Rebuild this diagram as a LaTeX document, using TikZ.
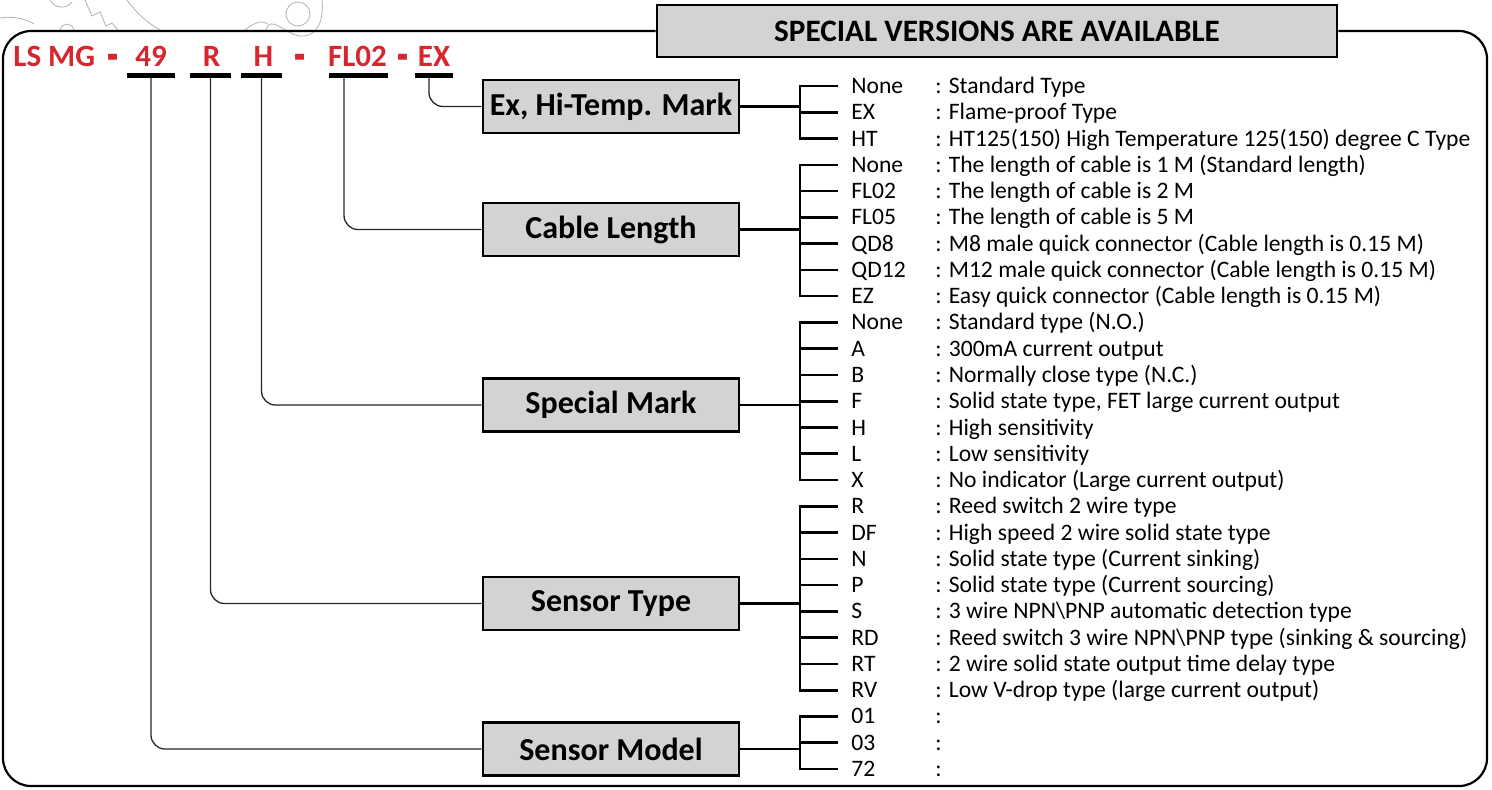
\documentclass[tikz,border=0pt]{standalone}
\usepackage{fontspec}
\setmainfont{Carlito}
\usetikzlibrary{calc}
\definecolor{codered}{RGB}{214,39,46}
\definecolor{boxgray}{RGB}{211,211,213}
\tikzset{
  labelbox/.style={draw=black, line width=1.3pt, fill=boxgray, minimum width=128pt,
    minimum height=26.5pt, inner sep=0pt, font=\bfseries\fontsize{16}{18}\selectfont},
  titlebox/.style={draw=black, line width=1.3pt, fill=boxgray, minimum width=340pt,
    minimum height=26pt, inner sep=0pt, font=\bfseries\fontsize{15.6}{18}\selectfont},
  conn/.style={line width=0.65pt, draw=black!85, rounded corners=7pt},
  brk/.style={line width=1.3pt},
  codebar/.style={fill=black, minimum height=2.5pt, inner sep=0pt},
  codetxt/.style={text=codered, font=\bfseries\fontsize{15.5}{18}\selectfont, anchor=base, inner sep=0pt},
  dashtxt/.style={codetxt, font=\bfseries\fontsize{15}{18}\selectfont},
  opt/.style={anchor=base west, inner sep=0pt, font=\fontsize{11.8}{14}\selectfont},
  outline/.style={line width=1.1pt, rounded corners=14pt},
  wmark/.style={draw=black!30, line width=0.4pt},
}
% one option line: name, row index, code, description
\newcommand\optrow[4]{%
  \node[opt] (#1c) at (851,{86+26.27*#2+7.5}) {#3};
  \node[opt] (#1d) at (935,{86+26.27*#2+7.5}) {: #4};
  \coordinate (#1t) at (838,{86+26.27*#2});
  \coordinate (#1j) at (800,{86+26.27*#2});
}
\newcommand\bigdash{\scalebox{1.2}[1.9]{-}}
\begin{document}
\begin{tikzpicture}[x=0.5pt,y=-0.5pt]
\useasboundingbox (0,0) rectangle (1492,789);

% faint gear outline in the upper corner
\draw[wmark] (298,14) circle (12);
\draw[wmark] (266,30) .. controls (270,14) and (285,34) .. (300,36) .. controls (318,37) and (324,20) .. (322,0);
\draw[wmark] (127,0) .. controls (136,12) and (146,22) .. (160,30);
\draw[wmark] (85,0) -- (92,16) -- (100,12) -- (106,26) -- (112,23) -- (118,30);
\draw[wmark] (50,0) .. controls (54,8) and (66,10) .. (72,2);
\draw[wmark] (0,18) .. controls (12,16) and (24,18) .. (34,24);
\draw[wmark] (60,30) .. controls (62,22) and (72,22) .. (74,30);
\draw[wmark] (245,30) .. controls (255,22) and (262,20) .. (268,24);

% title and outer frame
\node[titlebox] (title) at (997,31) {SPECIAL VERSIONS ARE AVAILABLE};
\draw[outline] (title.west) -- (3,31) -- (3,786) -- (1487,786) -- (1487,31) -- (title.east);

% ordering code
\node[codetxt, anchor=base west] (cLS) at (13,66) {LS MG};
\node[dashtxt] (cD1) at (113,73) {\bigdash};
\node[codetxt] (c49) at (151,66) {49};
\node[codetxt] (cR)  at (211.5,66) {R};
\node[codetxt] (cH)  at (263.5,66) {H};
\node[dashtxt] (cD2) at (300,73) {\bigdash};
\node[codetxt] (cFL) at (357.5,66) {FL02};
\node[dashtxt] (cD3) at (403,73) {\bigdash};
\node[codetxt] (cEX) at (434,66) {EX};

\node[codebar, minimum width=24pt]   (b49) at (151,75) {};
\node[codebar, minimum width=20.5pt] (bR)  at (210.5,75) {};
\node[codebar, minimum width=20.5pt] (bH)  at (261.5,75) {};
\node[codebar, minimum width=29.5pt] (bFL) at (358.5,75) {};
\node[codebar, minimum width=19pt]   (bEX) at (434,75) {};

% category boxes
\node[labelbox] (exbox)    at (611,106.5) {Ex, Hi-Temp. Mark};
\node[labelbox] (cablebox) at (611,229.5) {Cable Length};
\node[labelbox] (markbox)  at (611,405)   {Special Mark};
\node[labelbox] (typebox)  at (611,603.5) {Sensor Type};
\node[labelbox] (modelbox) at (611,749)   {Sensor Model};

% links from code to categories
\draw[conn] ([xshift=-2.5pt]bEX.south) |- (exbox.west);
\draw[conn] ([xshift=-7.25pt]bFL.south) |- (cablebox.west);
\draw[conn] (bH.south) |- (markbox.west);
\draw[conn] (bR.south) |- (typebox.west);
\draw[conn] (b49.south) |- (modelbox.west);

% option lines
\optrow{e0}{0}{None}{Standard Type}
\optrow{e1}{1}{EX}{Flame-proof Type}
\optrow{e2}{2}{HT}{HT125(150) High Temperature 125(150) degree C Type}
\optrow{l0}{3}{None}{The length of cable is 1 M (Standard length)}
\optrow{l1}{4}{FL02}{The length of cable is 2 M}
\optrow{l2}{5}{FL05}{The length of cable is 5 M}
\optrow{l3}{6}{QD8}{M8 male quick connector (Cable length is 0.15 M)}
\optrow{l4}{7}{QD12}{M12 male quick connector (Cable length is 0.15 M)}
\optrow{l5}{8}{EZ}{Easy quick connector (Cable length is 0.15 M)}
\optrow{m0}{9}{None}{Standard type (N.O.)}
\optrow{m1}{10}{A}{300mA current output}
\optrow{m2}{11}{B}{Normally close type (N.C.)}
\optrow{m3}{12}{F}{Solid state type, FET large current output}
\optrow{m4}{13}{H}{High sensitivity}
\optrow{m5}{14}{L}{Low sensitivity}
\optrow{m6}{15}{X}{No indicator (Large current output)}
\optrow{t0}{16}{R}{Reed switch 2 wire type}
\optrow{t1}{17}{DF}{High speed 2 wire solid state type}
\optrow{t2}{18}{N}{Solid state type (Current sinking)}
\optrow{t3}{19}{P}{Solid state type (Current sourcing)}
\optrow{t4}{20}{S}{3 wire NPN\textbackslash PNP automatic detection type}
\optrow{t5}{21}{RD}{Reed switch 3 wire NPN\textbackslash PNP type (sinking \& sourcing)}
\optrow{t6}{22}{RT}{2 wire solid state output time delay type}
\optrow{t7}{23}{RV}{Low V-drop type (large current output)}
\optrow{s0}{24}{01}{}
\optrow{s1}{25}{03}{}
\optrow{s2}{26}{72}{}

% brackets
\draw[brk] (e0t) -- (e0j) -- (e2j) -- (e2t);
\draw[brk] (e1j) -- (e1t);
\draw[brk] (exbox.east) -- (exbox.east -| e0j);

\draw[brk] (l0t) -- (l0j) -- (l5j) -- (l5t);
\foreach \k in {1,...,4} \draw[brk] (l\k j) -- (l\k t);
\draw[brk] (cablebox.east) -- (cablebox.east -| l0j);

\draw[brk] (m0t) -- (m0j) -- (m6j) -- (m6t);
\foreach \k in {1,...,5} \draw[brk] (m\k j) -- (m\k t);
\draw[brk] (markbox.east) -- (markbox.east -| m0j);

\draw[brk] (t0t) -- (t0j) -- (t7j) -- (t7t);
\foreach \k in {1,...,6} \draw[brk] (t\k j) -- (t\k t);
\draw[brk] (typebox.east) -- (typebox.east -| t0j);

\draw[brk] (s0t) -- (s0j) -- (s2j) -- (s2t);
\draw[brk] (s1j) -- (s1t);
\draw[brk] (modelbox.east) -- (modelbox.east -| s0j);
\end{tikzpicture}
\end{document}
